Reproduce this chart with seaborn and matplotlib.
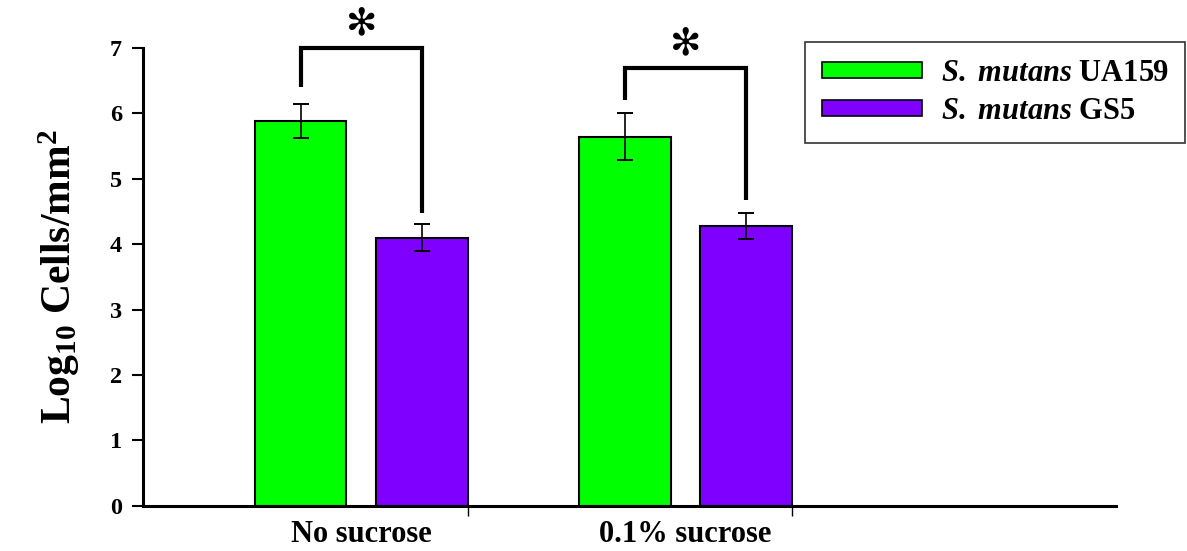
import numpy as np
import pandas as pd
import matplotlib
matplotlib.use("Agg")
import matplotlib.pyplot as plt
import seaborn as sns

# values
conditions = ["No sucrose", "0.1% sucrose"]
strains = ["$\\mathit{S.}$ $\\mathit{mutans}$ UA159", "$\\mathit{S.}$ $\\mathit{mutans}$ GS5"]
ua159_mean = [5.88, 5.64]
ua159_err = [0.26, 0.36]
gs5_mean = [4.10, 4.28]
gs5_err = [0.21, 0.20]
palette = ["#00FF00", "#8000FF"]

df = pd.DataFrame({
    "condition": conditions * 2,
    "strain": [strains[0]] * 2 + [strains[1]] * 2,
    "value": ua159_mean + gs5_mean,
})
errs = [ua159_err, gs5_err]

sns.set_theme(style="white")
plt.rcParams["font.family"] = ["Liberation Serif", "DejaVu Serif"]
plt.rcParams["font.weight"] = "bold"
plt.rcParams["mathtext.fontset"] = "custom"
plt.rcParams["mathtext.it"] = "Liberation Serif:italic:bold"
plt.rcParams["mathtext.rm"] = "Liberation Serif:bold"
plt.rcParams["mathtext.default"] = "regular"
for key in ["text.color", "axes.labelcolor", "xtick.color", "ytick.color"]:
    plt.rcParams[key] = "black"

fig = plt.figure(figsize=(11.87, 5.51), dpi=100)
ax = fig.add_axes([0.1205, 0.082, 0.820, 0.831])

sns.barplot(data=df, x="condition", y="value", hue="strain", hue_order=strains,
            palette=palette, width=0.747, gap=0.243, errorbar=None,
            edgecolor="black", linewidth=1.5, saturation=1, ax=ax)

# error bars on top of each bar
centers = []
for cont, err in zip(ax.containers, errs):
    xs = [p.get_x() + p.get_width() / 2 for p in cont.patches]
    ys = [p.get_height() for p in cont.patches]
    ax.errorbar(xs, ys, yerr=err, fmt="none", ecolor="black", elinewidth=1.2,
                capsize=5.5, capthick=1.4, zorder=5)
    centers.append(xs)

# significance brackets
left_bottom = [6.41, 6.21]
top_y = [7.0, 6.69]
right_bottom = [4.47, 4.68]
star_y = [7.36, 7.06]
for i in range(2):
    x1, x2 = centers[0][i], centers[1][i]
    ax.plot([x1, x1, x2, x2], [left_bottom[i], top_y[i], top_y[i], right_bottom[i]],
            color="black", lw=3, clip_on=False, zorder=6, solid_joinstyle="miter",
            solid_capstyle="butt")
    ax.text((x1 + x2) / 2, star_y[i], "\u273B", ha="center", va="center",
            fontsize=27, fontweight="bold", family="DejaVu Sans", clip_on=False)

ax.set_ylim(0, 7)
ax.set_xlim(-0.673, 2.33)
ax.set_yticks(range(8))
ax.tick_params(axis="y", labelsize=17.5, length=8, width=1.5, direction="out", left=True, pad=7)
ax.set_xticks([0, 1])
ax.set_xticklabels(conditions, fontsize=22, fontweight="bold")
ax.tick_params(axis="x", length=0, pad=10)
right_edges = [p.get_x() + p.get_width() for p in ax.containers[1].patches]
ax.set_xticks(right_edges, minor=True)
ax.tick_params(axis="x", which="minor", length=7, width=1, direction="out", bottom=True)

for s in ["top", "right"]:
    ax.spines[s].set_visible(False)
for s in ["left", "bottom"]:
    ax.spines[s].set_color("black")
    ax.spines[s].set_linewidth(2.2)

ax.set_xlabel("")
ax.set_ylabel("Log$_{10}$ Cells/mm$^2$", fontsize=30, fontweight="bold", labelpad=20)

ax.get_legend().remove()
handles = [plt.Rectangle((0, 0), 1, 1, facecolor=c, edgecolor="black", lw=1.2) for c in palette]
leg = fig.legend(handles, strains, loc="upper left", bbox_to_anchor=(0.678, 0.924),
                 frameon=True, fancybox=False, shadow=False, fontsize=22,
                 handlelength=3.3, handleheight=0.45, handletextpad=0.6,
                 borderpad=0.55, labelspacing=0.3, borderaxespad=0)
leg.get_frame().set_edgecolor("black")
leg.get_frame().set_linewidth(1.2)
for t in leg.get_texts():
    t.set_fontweight("bold")

fig.savefig("out.png", dpi=100)
